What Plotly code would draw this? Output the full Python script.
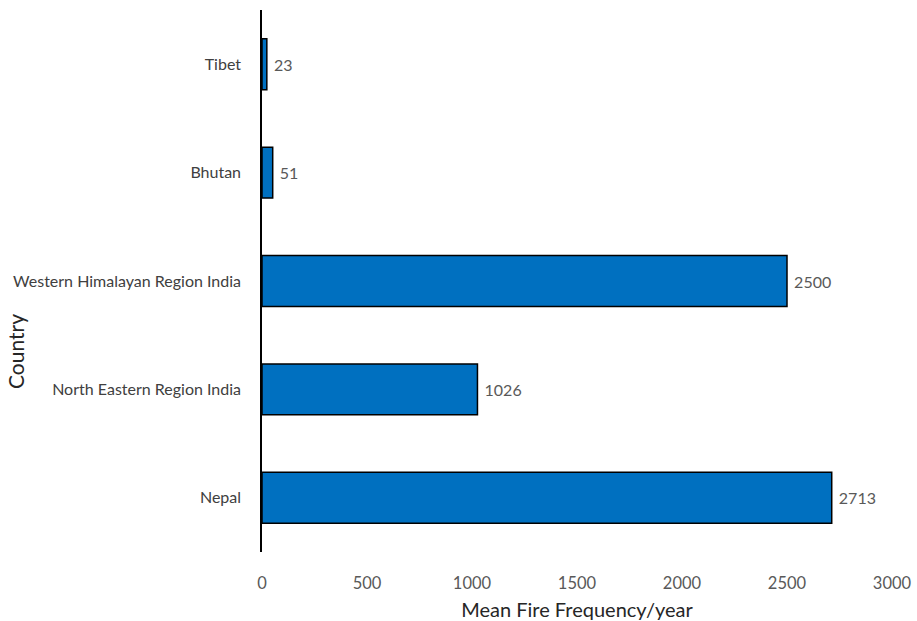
import plotly.graph_objects as go

countries = ["Nepal", "North Eastern Region India", "Western Himalayan Region India", "Bhutan", "Tibet"]
fire_freq = [2713, 1026, 2500, 51, 23]
x_ticks = [0, 500, 1000, 1500, 2000, 2500, 3000]

FONT = "Lato"

fig = go.Figure(
    go.Bar(
        y=countries,
        x=fire_freq,
        orientation="h",
        width=0.47,
        marker=dict(color="#0070C0", line=dict(color="#000000", width=1.5)),
        text=fire_freq,
        texttemplate=" %{x}",
        textposition="outside",
        textfont=dict(family=FONT, size=16, color="#595959"),
        cliponaxis=False,
    )
)

fig.update_layout(
    width=917,
    height=621,
    margin=dict(l=262, r=25, t=10, b=69),
    plot_bgcolor="white",
    paper_bgcolor="white",
    showlegend=False,
    font=dict(family=FONT),
    annotations=[
        dict(
            text="Country",
            xref="paper", yref="paper",
            x=(15 - 262) / 630, y=(552 - 352) / 542,
            xanchor="center", yanchor="middle",
            textangle=-90,
            showarrow=False,
            font=dict(family=FONT, size=21, color="#262626"),
        )
    ],
)

fig.update_xaxes(
    range=[0, 3000],
    tickvals=x_ticks,
    showgrid=False,
    zeroline=False,
    showline=False,
    automargin=False,
    ticks="outside",
    ticklen=16,
    tickcolor="rgba(0,0,0,0)",
    tickfont=dict(family=FONT, size=16.5, color="#595959"),
    title=dict(text="Mean Fire Frequency/year", font=dict(family=FONT, size=20, color="#262626"), standoff=11),
)

fig.update_yaxes(
    showgrid=False,
    zeroline=False,
    showline=True,
    automargin=False,
    linecolor="#000000",
    linewidth=1.5,
    ticks="outside",
    ticklen=16,
    tickcolor="rgba(0,0,0,0)",
    tickfont=dict(family=FONT, size=16, color="#404040"),
)

fig.write_html("out.html")
